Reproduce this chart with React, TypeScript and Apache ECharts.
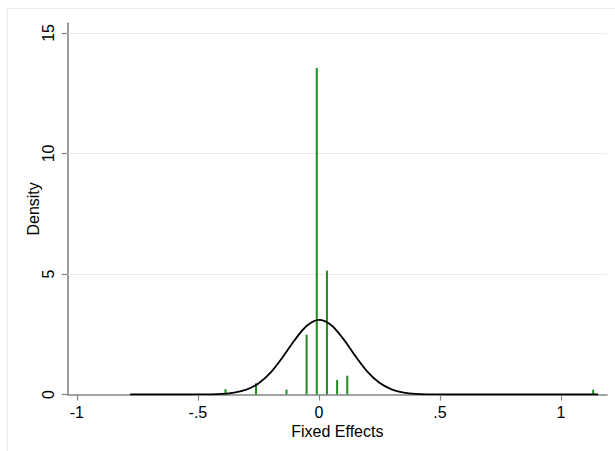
import React, { useEffect, useRef } from "react";
import * as echarts from "echarts";

// Histogram spikes (bin centre, density)
const binCenters = [-0.386, -0.26, -0.134, -0.051, -0.009, 0.033, 0.075, 0.117, 1.133];
const binDensities = [0.22, 0.47, 0.2, 2.48, 13.55, 5.14, 0.6, 0.78, 0.2];

// Normal density overlay
const curveX = [-0.78, -0.7, -0.6, -0.55, -0.5, -0.45, -0.4, -0.35, -0.3, -0.25, -0.2, -0.15, -0.1, -0.05, 0, 0.05, 0.1, 0.15, 0.2, 0.25, 0.3, 0.35, 0.4, 0.45, 0.5, 0.55, 0.6, 0.7, 0.8, 0.9, 1.0, 1.153];
const curveY = [0, 0, 0.0001, 0.0004, 0.0016, 0.0067, 0.024, 0.075, 0.2, 0.459, 0.908, 1.545, 2.263, 2.852, 3.093, 2.886, 2.318, 1.602, 0.952, 0.487, 0.215, 0.081, 0.0265, 0.0074, 0.0018, 0.0004, 0.0001, 0, 0, 0, 0, 0];

const xTickValues = [-1, -0.5, 0, 0.5, 1];
const xTickLabels = ["-1", "-.5", "0", ".5", "1"];
const yTickValues = [0, 5, 10, 15];
const yGridValues = [5, 10, 15];

const FONT = "'Liberation Sans', Arial, Helvetica, sans-serif";

export default function App() {
  const ref = useRef<HTMLDivElement>(null);
  useEffect(() => {
    if (!ref.current) return;
    const chart = echarts.init(ref.current, undefined, { renderer: "svg" });
    const axisColor = "#858585";
    chart.setOption({
      animation: false,
      backgroundColor: "#ffffff",
      graphic: [
        {
          type: "rect",
          shape: { x: 7.5, y: 8.5, width: 640, height: 480 },
          style: { fill: "none", stroke: "#e3ecef", lineWidth: 1 },
          silent: true,
          z: -10,
        },
      ],
      grid: { left: 67.7, right: 8, top: 23.3, bottom: 56.5, containLabel: false },
      xAxis: {
        type: "value",
        min: -1.038,
        max: 1.19,
        name: "Fixed Effects",
        nameLocation: "middle",
        nameGap: 28.5,
        nameMoveOverlap: false,
        nameTextStyle: { fontSize: 16, color: "#000", fontFamily: FONT },
        axisLine: { show: true, onZero: false, lineStyle: { color: axisColor, width: 1.6 } },
        axisTick: { show: true, length: 6, customValues: xTickValues, lineStyle: { color: axisColor, width: 1.2 } },
        axisLabel: {
          customValues: xTickValues,
          margin: 10,
          fontSize: 16,
          color: "#000",
          fontFamily: FONT,
          formatter: (v: number) => {
            const i = xTickValues.findIndex((t) => Math.abs(t - v) < 1e-9);
            return i >= 0 ? xTickLabels[i] : "";
          },
        },
        splitLine: { show: false },
      },
      yAxis: {
        type: "value",
        min: 0,
        max: 15.4,
        name: "Density",
        nameLocation: "middle",
        nameGap: 26,
        nameMoveOverlap: false,
        nameRotate: 90,
        nameTextStyle: { fontSize: 16, color: "#000", fontFamily: FONT },
        axisLine: { show: true, onZero: false, lineStyle: { color: axisColor, width: 1.6 } },
        axisTick: { show: true, length: 6, customValues: yTickValues, lineStyle: { color: axisColor, width: 1.2 } },
        axisLabel: {
          customValues: yTickValues,
          rotate: 90,
          margin: 11,
          fontSize: 16,
          color: "#000",
          fontFamily: FONT,
          formatter: (v: number) => String(v),
        },
        splitLine: { show: false },
      },
      series: [
        {
          type: "bar",
          data: binCenters.map((c, i) => [c, binDensities[i]]),
          barWidth: 2,
          itemStyle: { color: "#1f8c1f" },
          silent: true,
          z: 2,
          markLine: {
            silent: true,
            symbol: "none",
            label: { show: false },
            lineStyle: { color: "#e3ecef", type: "solid", width: 1 },
            data: yGridValues.map((v) => ({ yAxis: v })),
            z: 1,
          },
        },
        {
          type: "line",
          data: curveX.map((x, i) => [x, curveY[i]]),
          smooth: 0.3,
          showSymbol: false,
          symbol: "none",
          lineStyle: { color: "#000", width: 1.8 },
          silent: true,
          z: 3,
        },
      ],
    });
    return () => chart.dispose();
  }, []);
  return (
    <div
      ref={ref}
      style={{ position: "absolute", left: 0, top: 0, width: 615, height: 451 }}
    />
  );
}
